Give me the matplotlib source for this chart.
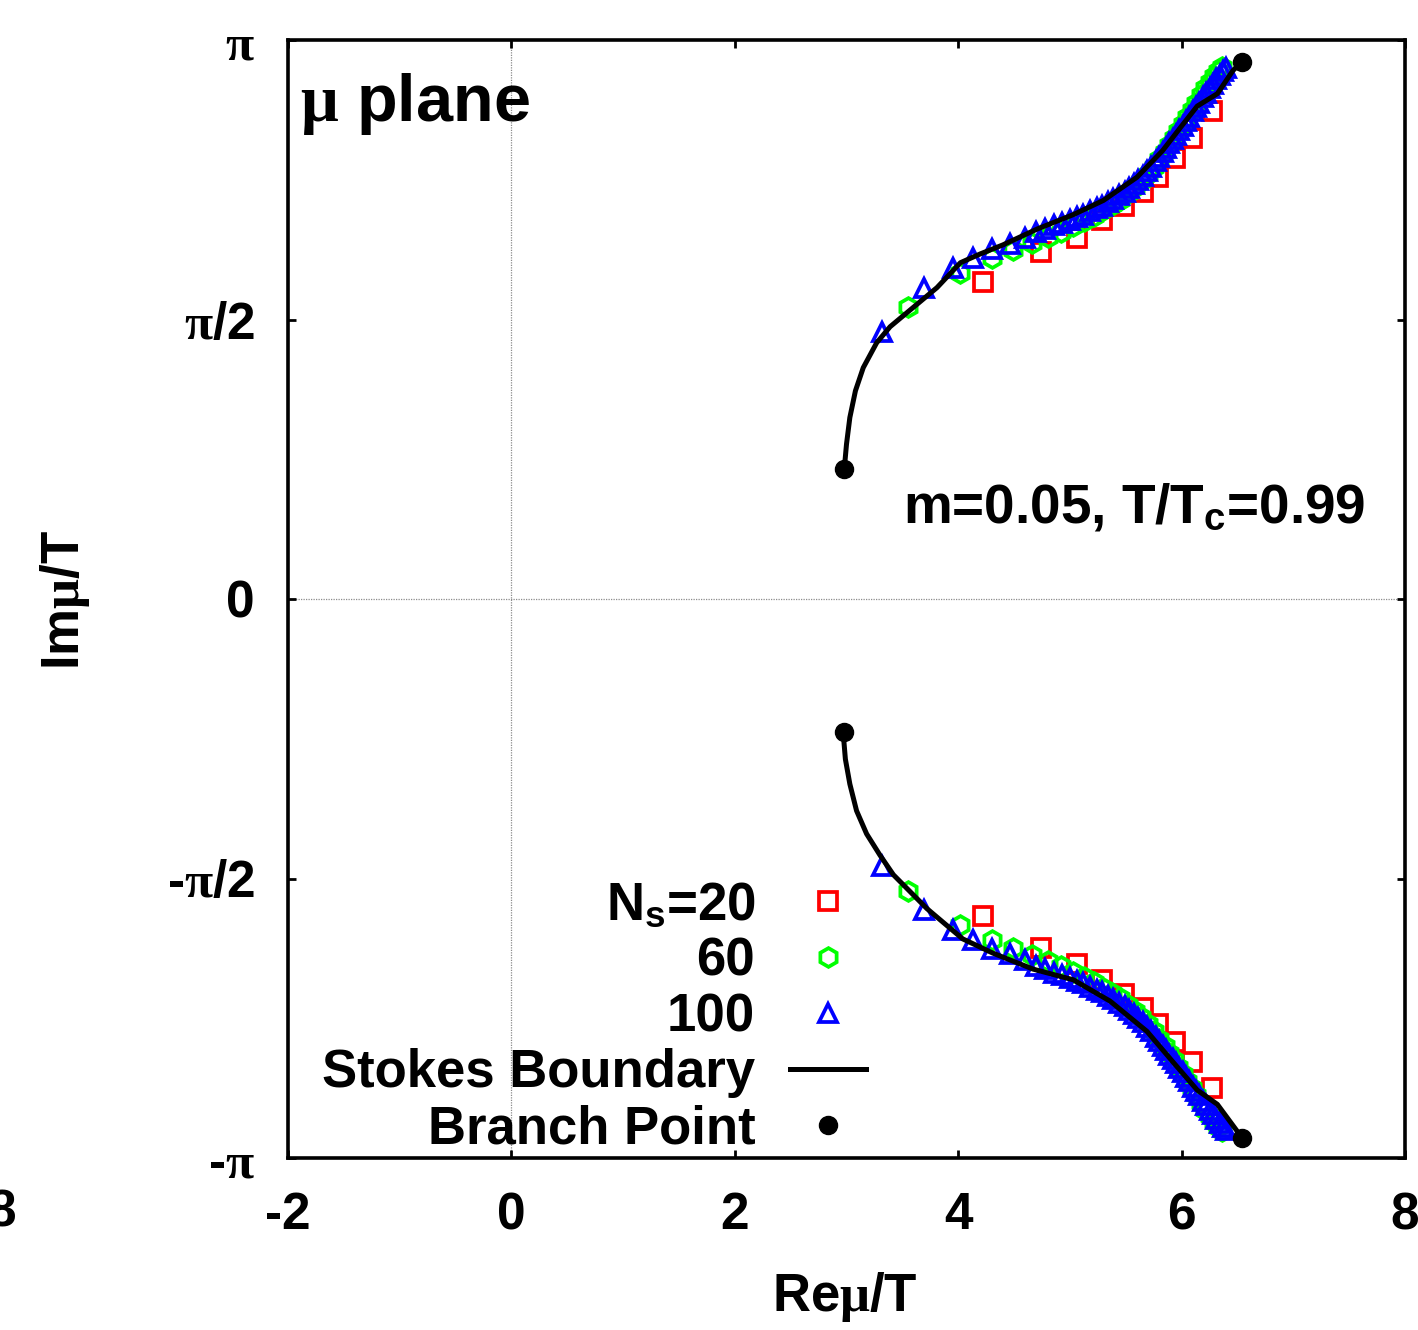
import numpy as np
import matplotlib
matplotlib.use("Agg")
import matplotlib.pyplot as plt

plt.rcParams['font.family'] = ['Liberation Sans', 'DejaVu Sans']
plt.rcParams['font.weight'] = 'bold'
plt.rcParams['mathtext.fontset'] = 'custom'
plt.rcParams['mathtext.rm'] = 'Liberation Serif'
plt.rcParams['mathtext.it'] = 'Liberation Serif'
plt.rcParams['mathtext.bf'] = 'Liberation Sans:bold'

# Stokes boundary (upper / lower branch)
stokes_re_up = [2.98, 3.00, 3.03, 3.08, 3.15, 3.27, 3.39, 3.60, 3.81, 4.02, 4.20, 4.40,
                4.71, 5.03, 5.30, 5.60, 5.83, 5.99, 6.14, 6.32, 6.46, 6.54]
stokes_im_up = [0.73, 0.87, 1.02, 1.17, 1.30, 1.44, 1.53, 1.64, 1.75, 1.89, 1.94, 1.99,
                2.08, 2.16, 2.24, 2.37, 2.52, 2.65, 2.77, 2.84, 2.97, 3.02]
stokes_re_dn = [2.97, 2.99, 3.03, 3.09, 3.18, 3.30, 3.42, 3.72, 4.04, 4.31, 4.67, 5.03,
                5.36, 5.69, 5.92, 6.14, 6.32, 6.52]
stokes_im_dn = [-0.75, -0.90, -1.04, -1.19, -1.32, -1.44, -1.55, -1.74, -1.91, -1.99, -2.08,
                -2.14, -2.26, -2.43, -2.60, -2.76, -2.84, -3.01]

# branch points
bp_re = [2.98, 6.54, 2.98, 6.54]
bp_im = [0.73, 3.02, -0.75, -3.03]

# N_s = 20
ns20_re = [4.22, 4.74, 5.06, 5.29, 5.48, 5.65, 5.79, 5.94, 6.09, 6.27]
ns20_im_up = [1.78, 1.95, 2.03, 2.13, 2.21, 2.29, 2.37, 2.48, 2.59, 2.74]
ns20_im_dn = [-1.78, -1.96, -2.05, -2.14, -2.22, -2.30, -2.39, -2.49, -2.60, -2.75]

# N_s = 60
ns60_re = [3.55, 4.02, 4.30, 4.49, 4.66, 4.80, 4.92, 5.03, 5.13, 5.22, 5.30, 5.38, 5.45,
           5.52, 5.58, 5.64, 5.70, 5.75, 5.80, 5.85, 5.89, 5.93, 5.97, 6.01, 6.05, 6.09,
           6.13, 6.17, 6.21, 6.25, 6.29, 6.33, 6.36]
ns60_im_up = [1.64, 1.83, 1.915, 1.96, 2.00, 2.035, 2.065, 2.095, 2.125, 2.155, 2.185,
              2.215, 2.245, 2.28, 2.315, 2.35, 2.39, 2.43, 2.47, 2.51, 2.55, 2.59, 2.63,
              2.67, 2.71, 2.75, 2.79, 2.83, 2.87, 2.905, 2.94, 2.97, 2.99]
ns60_im_dn = [-1.64, -1.83, -1.915, -1.96, -2.00, -2.035, -2.065, -2.095, -2.125, -2.155,
              -2.185, -2.215, -2.245, -2.28, -2.315, -2.35, -2.39, -2.43, -2.47, -2.51,
              -2.55, -2.59, -2.63, -2.67, -2.71, -2.75, -2.79, -2.83, -2.87, -2.905,
              -2.94, -2.97, -2.99]

# N_s = 100
ns100_re = [3.32, 3.69, 3.95, 4.13, 4.30, 4.46, 4.60, 4.70, 4.78, 4.86, 4.93, 5.00, 5.06,
            5.12, 5.18, 5.24, 5.29, 5.34, 5.39, 5.44, 5.49, 5.53, 5.57, 5.61, 5.65, 5.69,
            5.73, 5.77, 5.80, 5.83, 5.86, 5.89, 5.92, 5.95, 5.98, 6.01, 6.04, 6.07, 6.10,
            6.13, 6.16, 6.19, 6.22, 6.25, 6.28, 6.31, 6.34, 6.37, 6.40]
ns100_im_up = [1.50, 1.75, 1.86, 1.915, 1.965, 1.995, 2.03, 2.06, 2.08, 2.10, 2.115, 2.13,
               2.145, 2.16, 2.18, 2.195, 2.21, 2.23, 2.25, 2.27, 2.29, 2.31, 2.33, 2.355,
               2.38, 2.405, 2.43, 2.46, 2.485, 2.51, 2.535, 2.56, 2.585, 2.61, 2.635, 2.66,
               2.685, 2.71, 2.74, 2.765, 2.79, 2.82, 2.845, 2.87, 2.895, 2.92, 2.945, 2.965,
               2.985]
ns100_im_dn = [-1.50, -1.75, -1.86, -1.915, -1.965, -1.995, -2.03, -2.06, -2.08, -2.10,
               -2.115, -2.13, -2.145, -2.16, -2.18, -2.195, -2.21, -2.23, -2.25, -2.27,
               -2.29, -2.31, -2.33, -2.355, -2.38, -2.405, -2.43, -2.46, -2.485, -2.51,
               -2.535, -2.56, -2.585, -2.61, -2.635, -2.66, -2.685, -2.71, -2.74, -2.765,
               -2.79, -2.82, -2.845, -2.87, -2.895, -2.92, -2.945, -2.965, -2.985]

xticks = [-2, 0, 2, 4, 6, 8]
yticks = [-np.pi, -np.pi / 2, 0, np.pi / 2, np.pi]
ytick_labels = [r'-$\pi$', r'-$\pi$/2', '0', r'$\pi$/2', r'$\pi$']

W, H = 1418, 1330
fig = plt.figure(figsize=(W / 100, H / 100), dpi=100)
ax = fig.add_axes([288 / W, 1 - 1158 / H, (1405 - 288) / W, (1158 - 40) / H])

ax.axhline(0, color='0.55', lw=0.9, ls=(0, (1, 1)), zorder=0.5)
ax.axvline(0, color='0.55', lw=0.9, ls=(0, (1, 1)), zorder=0.5)

mk = dict(ls='none', mfc='none', mew=2.7)
h20, = ax.plot(ns20_re, ns20_im_up, marker='s', ms=12.5, mec='#ff0000', zorder=2, **mk)
ax.plot(ns20_re, ns20_im_dn, marker='s', ms=12.5, mec='#ff0000', zorder=2, **mk)
h60, = ax.plot(ns60_re, ns60_im_up, marker='h', ms=13.5, mec='#00ff00', zorder=3, **mk)
ax.plot(ns60_re, ns60_im_dn, marker='h', ms=13.5, mec='#00ff00', zorder=3, **mk)
h100, = ax.plot(ns100_re, ns100_im_up, marker='^', ms=13, mec='#0000ff', zorder=4, **mk)
ax.plot(ns100_re, ns100_im_dn, marker='^', ms=13, mec='#0000ff', zorder=4, **mk)

hline, = ax.plot(stokes_re_up, stokes_im_up, color='black', lw=3.6, zorder=5)
ax.plot(stokes_re_dn, stokes_im_dn, color='black', lw=3.6, zorder=5)
hbp, = ax.plot(bp_re, bp_im, ls='none', marker='o', ms=13, color='black', zorder=6)

ax.set_xlim(-2, 8)
ax.set_ylim(-np.pi, np.pi)
ax.set_xticks(xticks)
ax.set_xticklabels([str(t) for t in xticks])
ax.set_yticks(yticks)
ax.set_yticklabels(ytick_labels)
ax.tick_params(direction='in', length=6, width=2, top=True, right=True, labelsize=37)
ax.tick_params(axis='x', pad=24)
ax.tick_params(axis='y', pad=24)
for s in ax.spines.values():
    s.set_linewidth(2.6)

fig.text(65 / W, 1 - 600 / H, r'Im$\mu$/T', rotation=90, ha='center', va='center',
         fontsize=38)
fig.text(845 / W, 1 - 1297 / H, r'Re$\mu$/T', ha='center', va='center', fontsize=38)
fig.text(16 / W, 1 - 1213 / H, '8', ha='right', va='center', fontsize=37)

fig.text(300 / W, 1 - 121 / H, r'$\mu$ plane', ha='left', va='baseline', fontsize=48)
fig.text(1365 / W, 1 - 522 / H, r'm=0.05, T/T$_\mathbf{c}$=0.99', ha='right',
         va='baseline', fontsize=39.5)

ax.legend([h20, h60, h100, hline, hbp],
          [r'N$_\mathbf{s}$=20', '60', '100', 'Stokes Boundary', 'Branch Point'],
          markerfirst=False, frameon=False, fontsize=38, handlelength=1.44,
          handletextpad=0.66, labelspacing=0.11, borderpad=0, borderaxespad=0,
          loc='lower right', bbox_to_anchor=(866 / W, 1 - 1154 / H),
          bbox_transform=fig.transFigure)

fig.savefig('out.png', dpi=100)
